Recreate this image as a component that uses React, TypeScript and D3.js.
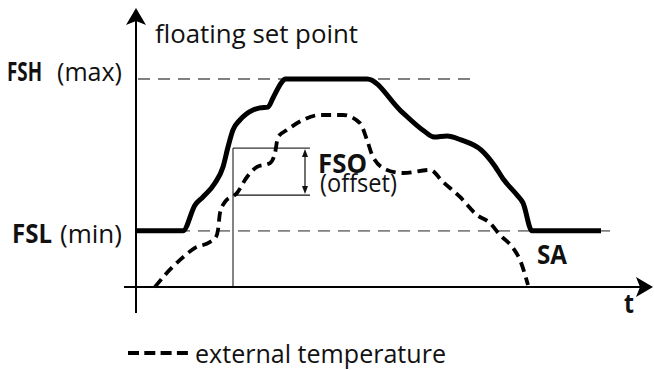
import React from "react";
import * as d3 from "d3";

// ---- data (arbitrary units: time 0..100, value 0..100) ----
const setpointT = [0, 9.4, 11.8, 13.4, 15.8, 17.4, 18.4, 19.4, 20.8, 23.4, 24.8, 26.4, 27.4, 29.2, 29.8, 46.2, 53, 57.6, 59.6, 62.2, 65, 69, 71.6, 73.6, 76.2, 77.4, 79.2, 93];
const setpointV = [27, 27, 39.4, 43.3, 50, 57.7, 67.3, 75.5, 80.3, 85.1, 86.1, 86.5, 90.9, 98.6, 100, 100, 84.6, 75, 72.1, 72.6, 70.7, 65.9, 58.7, 51.4, 44.2, 40.4, 27, 27];
const tempT = [3.8, 5.8, 8.8, 11.8, 14.8, 16, 16.4, 16.8, 17.8, 20.2, 22.2, 24.2, 26.8, 27.8, 28.4, 30.2, 33.4, 36.8, 41.4, 44.8, 46.2, 47.4, 50.2, 53.4, 58.8, 61.4, 64.8, 68.2, 70.8, 72.8, 75.4, 76.8, 78.4];
const tempV = [0, 5.8, 13, 18.8, 21.6, 24, 27.4, 35.6, 40.9, 45.2, 52.9, 57.7, 59.6, 64.4, 72.1, 75.5, 80.3, 82.7, 82.7, 78.8, 70.7, 62.5, 56.3, 54.8, 56.3, 50.5, 43.3, 34.6, 30.8, 25, 18.8, 13, 1];
const FSL = 27;
const FSH = 100;
const fshLineEnd = 67.2;
const fslLineEnd = 95.2;
const fsoT = 19.4;
const fsoTop = 66.8;
const fsoBottom = 44.2;
const fsoRight = 34.8;
const fsoArrowT = 33.8;

const W = 654;
const H = 370;
const FONT = "'Open Sans', 'DejaVu Sans', sans-serif";

export default function App() {
  const x = d3.scaleLinear().domain([0, 100]).range([136, 636]);
  const y = d3.scaleLinear().domain([0, 100]).range([287, 79]);

  const line = d3
    .line<[number, number]>()
    .x((d) => x(d[0]))
    .y((d) => y(d[1]))
    .curve(d3.curveMonotoneX);

  const sp = setpointT.map((t, i) => [t, setpointV[i]] as [number, number]);
  const tp = tempT.map((t, i) => [t, tempV[i]] as [number, number]);

  const x0 = x(0);
  const y0 = y(0);
  const axisTop = 8;
  const axisBottom = 313;
  const axisLeft = 124;
  const axisRight = 653;

  const ax = x(fsoArrowT);
  const aTop = y(fsoTop);
  const aBot = y(fsoBottom);

  const txt = (
    s: string,
    px: number,
    py: number,
    w: number,
    bold = false
  ) => (
    <text
      x={px}
      y={py}
      fontFamily={FONT}
      fontSize={26}
      fontWeight={bold ? 700 : 400}
      textLength={w}
      lengthAdjust="spacingAndGlyphs"
      fill="#111"
    >
      {s}
    </text>
  );

  return (
    <svg
      width={W}
      height={H}
      style={{ position: "absolute", left: 0, top: 0, background: "#fff" }}
    >
      {/* reference dashed lines */}
      <line x1={x0 + 2} x2={x(fshLineEnd)} y1={y(FSH)} y2={y(FSH)} stroke="#808080" strokeWidth={1.8} strokeDasharray="12,8" />
      <line x1={x0 + 2} x2={x(fslLineEnd)} y1={y(FSL)} y2={y(FSL)} stroke="#808080" strokeWidth={1.8} strokeDasharray="12,8" />

      {/* FSO construction lines */}
      <line x1={x(fsoT)} x2={x(fsoT)} y1={y(fsoTop)} y2={y0} stroke="#333" strokeWidth={1.2} />
      <line x1={x(fsoT)} x2={x(fsoRight)} y1={y(fsoTop)} y2={y(fsoTop)} stroke="#333" strokeWidth={1.2} />
      <line x1={x(fsoT)} x2={x(fsoRight)} y1={y(fsoBottom)} y2={y(fsoBottom)} stroke="#111" strokeWidth={1.2} />
      <line x1={ax} x2={ax} y1={aTop + 5} y2={aBot - 5} stroke="#111" strokeWidth={1.2} />
      <path d={`M${ax},${aTop + 1} L${ax + 3},${aTop + 9} L${ax - 3},${aTop + 9} Z`} fill="#111" />
      <path d={`M${ax},${aBot - 1} L${ax + 3},${aBot - 9} L${ax - 3},${aBot - 9} Z`} fill="#111" />

      {/* axes */}
      <line x1={x0} x2={x0} y1={axisTop + 12} y2={axisBottom} stroke="#000" strokeWidth={2} />
      <line x1={axisLeft} x2={axisRight - 10} y1={y0} y2={y0} stroke="#000" strokeWidth={2} />
      <path d={`M${x0},${axisTop} L${x0 + 10},${axisTop + 17} L${x0},${axisTop + 13} L${x0 - 10},${axisTop + 17} Z`} fill="#000" />
      <path d={`M${axisRight},${y0} L${axisRight - 17},${y0 - 10} L${axisRight - 13},${y0} L${axisRight - 17},${y0 + 10} Z`} fill="#000" />

      {/* curves */}
      <path d={line(tp) || ""} fill="none" stroke="#000" strokeWidth={3.8} strokeDasharray="10,6" />
      <path d={line(sp) || ""} fill="none" stroke="#000" strokeWidth={5} strokeLinejoin="round" />

      {/* labels */}
      {txt("floating set point", 155, 43, 203)}
      {txt("FSH", 7, 81, 35, true)}
      {txt("(max)", 57, 81, 65)}
      {txt("FSL", 12, 243, 40, true)}
      {txt("(min)", 60, 243, 62)}
      {txt("FSO", 318, 173, 49, true)}
      {txt("(offset)", 320, 192, 77)}
      {txt("SA", 537, 264, 30, true)}
      {txt("t", 624, 313, 10, true)}

      {/* legend */}
      <line x1={128} x2={188} y1={353} y2={353} stroke="#000" strokeWidth={4} strokeDasharray="11,5.3" />
      {txt("external temperature", 195, 363, 251)}
    </svg>
  );
}
